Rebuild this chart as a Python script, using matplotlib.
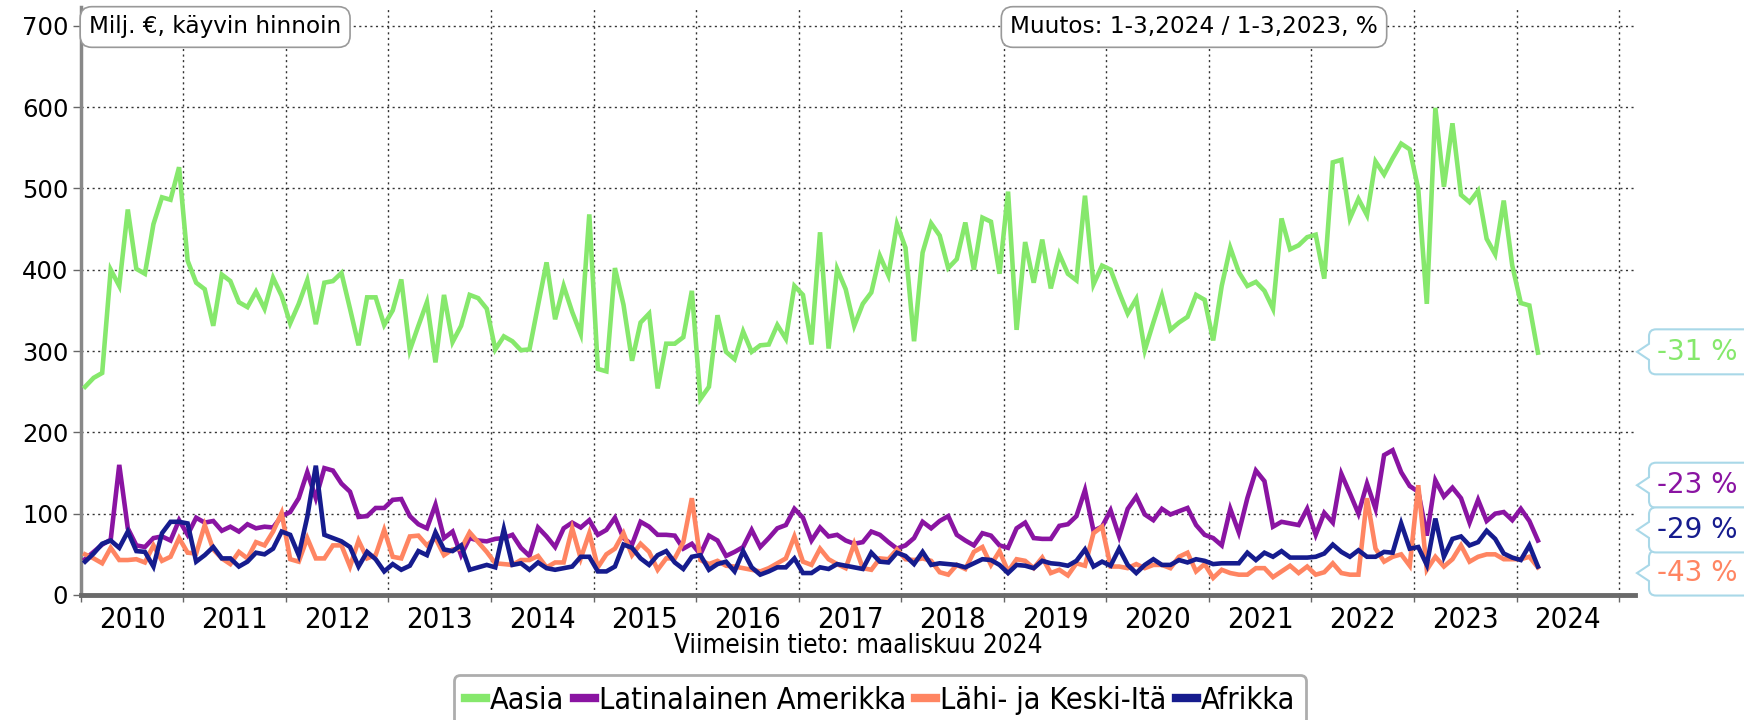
import matplotlib
matplotlib.use('Agg')
import matplotlib.pyplot as plt
import numpy as np
from matplotlib.path import Path
from matplotlib.patches import PathPatch
from matplotlib.transforms import IdentityTransform
from matplotlib.lines import Line2D
from matplotlib import font_manager as fm

# ---------------- data (monthly, Jan 2010 - Mar 2024, milj. EUR) ----------------
start_year = 2010
series_names = ["Aasia", "Latinalainen Amerikka", "Lähi- ja Keski-Itä", "Afrikka"]
series_colors = ["#86e86c", "#8a14a2", "#ff8562", "#161c8e"]

aasia = [256, 267, 273, 400, 380, 474, 401, 395, 456, 489, 486, 526,
         411, 384, 376, 331, 394, 386, 360, 354, 373, 352, 390, 368,
         334, 358, 387, 333, 384, 386, 396, 352, 307, 366, 366, 332,
         350, 388, 301, 331, 360, 286, 369, 311, 331, 369, 365, 352,
         302, 318, 312, 301, 302, 356, 409, 339, 380, 348, 321, 468,
         278, 275, 402, 357, 288, 335, 346, 254, 309, 309, 317, 374,
         241, 256, 344, 299, 290, 324, 299, 307, 308, 332, 315, 380,
         369, 308, 446, 303, 401, 376, 331, 358, 372, 417, 393, 456,
         427, 312, 421, 457, 442, 402, 413, 458, 400, 464, 459, 395,
         496, 326, 434, 384, 437, 377, 419, 395, 387, 491, 382, 405,
         400, 372, 346, 364, 301, 335, 368, 326, 335, 342, 369, 363,
         313, 380, 427, 397, 380, 385, 374, 352, 463, 425, 430, 440,
         443, 389, 532, 535, 463, 487, 467, 533, 517, 537, 555, 548,
         499, 358, 599, 502, 580, 492, 483, 497, 438, 419, 485, 405,
         359, 356, 298]

latinalainen = [44, 53, 62, 68, 160, 82, 61, 59, 70, 72, 67, 92,
                74, 95, 89, 91, 79, 84, 78, 87, 82, 84, 83, 97,
                102, 119, 151, 119, 156, 153, 137, 127, 96, 97, 107, 107,
                117, 118, 97, 87, 82, 111, 70, 78, 49, 70, 67, 66,
                69, 70, 74, 58, 48, 83, 72, 59, 82, 89, 83, 92,
                74, 80, 95, 70, 62, 90, 84, 74, 74, 73, 57, 63,
                50, 73, 67, 48, 53, 59, 80, 59, 70, 82, 86, 106,
                95, 67, 83, 72, 74, 67, 63, 65, 78, 74, 65, 57,
                61, 70, 90, 82, 91, 97, 74, 67, 61, 76, 73, 61,
                58, 82, 89, 70, 69, 69, 85, 87, 97, 129, 79, 84,
                104, 72, 106, 121, 99, 92, 106, 99, 103, 107, 86, 74,
                70, 61, 106, 77, 119, 153, 140, 84, 90, 88, 86, 106,
                74, 101, 89, 149, 125, 100, 137, 106, 172, 178, 151, 134,
                127, 73, 141, 121, 132, 119, 89, 117, 91, 100, 102, 92,
                106, 91, 67]

lahi_keski_ita = [50, 45, 39, 58, 43, 43, 44, 40, 61, 42, 47, 70,
                  52, 51, 86, 56, 45, 38, 53, 45, 65, 61, 78, 101,
                  44, 41, 70, 45, 45, 61, 61, 35, 67, 45, 49, 80,
                  47, 45, 72, 73, 61, 70, 49, 56, 57, 77, 65, 53,
                  39, 38, 37, 43, 43, 48, 34, 40, 40, 82, 45, 76,
                  34, 50, 57, 76, 49, 63, 53, 31, 45, 45, 65, 119,
                  43, 38, 42, 36, 35, 33, 31, 29, 33, 39, 45, 72,
                  41, 37, 57, 44, 38, 33, 63, 33, 31, 45, 44, 56,
                  44, 43, 45, 42, 28, 25, 37, 32, 53, 59, 37, 54,
                  29, 44, 42, 33, 46, 27, 31, 24, 39, 36, 76, 84,
                  35, 35, 33, 38, 33, 37, 37, 33, 47, 52, 29, 38,
                  21, 31, 27, 25, 25, 33, 33, 22, 29, 36, 27, 35,
                  25, 28, 39, 27, 25, 25, 119, 57, 41, 47, 50, 36,
                  135, 31, 47, 35, 44, 61, 41, 47, 50, 50, 44, 44,
                  44, 47, 34]

afrikka = [41, 51, 63, 67, 58, 78, 54, 53, 35, 76, 90, 90,
           88, 41, 49, 59, 45, 45, 35, 41, 52, 50, 57, 78,
           74, 49, 96, 159, 74, 70, 66, 59, 35, 53, 44, 29,
           38, 31, 36, 54, 49, 77, 56, 54, 61, 31, 34, 37,
           34, 81, 37, 39, 31, 40, 33, 31, 33, 35, 47, 47,
           29, 29, 35, 62, 58, 45, 37, 49, 54, 40, 32, 47,
           49, 31, 38, 41, 29, 54, 34, 25, 29, 34, 34, 45,
           27, 27, 34, 32, 38, 36, 34, 32, 52, 41, 40, 52,
           48, 38, 53, 37, 39, 38, 37, 34, 39, 44, 43, 37,
           27, 37, 36, 33, 42, 39, 38, 36, 42, 56, 35, 41,
           36, 57, 37, 27, 37, 44, 37, 37, 43, 40, 44, 42,
           38, 39, 39, 39, 52, 43, 52, 47, 54, 46, 46, 46,
           47, 51, 62, 53, 47, 55, 47, 47, 53, 52, 88, 57,
           59, 37, 94, 47, 69, 72, 61, 65, 79, 69, 51, 46,
           43, 61, 35]

change_labels = ["-31 %", "-23 %", "-43 %", "-29 %"]
# y-levels (data units) where the callouts point (staggered to avoid overlap)
callout_levels = [299, 135, 27, 80]

year_labels = [str(y) for y in range(2010, 2025)]
y_ticks = [0, 100, 200, 300, 400, 500, 600, 700]

# ---------------- fonts ----------------
cond_path = None
for wanted in ['DejaVuSansCondensed.ttf', 'LiberationSansNarrow-Regular.ttf']:
    for f in fm.fontManager.ttflist:
        if f.fname.endswith(wanted):
            cond_path = f.fname
            break
    if cond_path:
        break

def cond_font(size):
    if cond_path:
        return fm.FontProperties(fname=cond_path, size=size)
    return fm.FontProperties(family='DejaVu Sans', size=size * 0.9)

plt.rcParams['font.family'] = ['DejaVu Sans']

# ---------------- figure ----------------
W, H = 1744, 720
fig = plt.figure(figsize=(W / 100, H / 100), dpi=100)
ax_left, ax_right, ax_bottom, ax_top = 80.8, 1635, 595, 7
ax = fig.add_axes([ax_left / W, (H - ax_bottom) / H,
                   (ax_right - ax_left) / W, (ax_bottom - ax_top) / H])

all_series = [aasia, latinalainen, lahi_keski_ita, afrikka]
n = len(aasia)
xs = start_year + (np.arange(n) + 0.5) / 12.0
for vals, col in zip(all_series, series_colors):
    ax.plot(xs, vals, color=col, lw=3.3, solid_joinstyle='miter', zorder=3)

ax.set_xlim(2010, 2025.155)
ax.set_ylim(0, 723)

# grid
for yr in range(2011, 2026):
    ax.axvline(yr, color='#333333', lw=1.0, ls=(0, (1.5, 2.5)), zorder=1)
for yv in y_ticks[1:]:
    ax.axhline(yv, color='#333333', lw=1.0, ls=(0, (1.5, 2.5)), zorder=1)

# spines
for s in ['top', 'right']:
    ax.spines[s].set_visible(False)
ax.spines['left'].set_color('#888888')
ax.spines['left'].set_linewidth(2.5)
ax.spines['bottom'].set_color('#6a6a6a')
ax.spines['bottom'].set_linewidth(3.5)

ax.set_yticks(y_ticks)
ax.set_yticklabels([str(v) for v in y_ticks])
ax.tick_params(axis='y', length=6, width=1, color='#666666', labelsize=17.5, pad=3)

ax.set_xticks(list(range(2010, 2026)))
ax.set_xticklabels([])
ax.tick_params(axis='x', which='major', length=5, width=1, color='#666666')
ax.set_xticks([y + 0.5 for y in range(2010, 2025)], minor=True)
ax.set_xticklabels(year_labels, minor=True)
ax.tick_params(axis='x', which='minor', length=0, pad=8)
for lab in ax.get_xticklabels(minor=True):
    lab.set_fontproperties(cond_font(21))

# boxes at top
box_kw = dict(boxstyle='round,pad=0.38,rounding_size=0.5', fc='white', ec='#999999', lw=1.2)
fig.text(89 / W, 1 - 27 / H, "Milj. €, käyvin hinnoin", ha='left', va='center',
         fontsize=16.7, bbox=box_kw, zorder=10)
fig.text(1194 / W, 1 - 27 / H, "Muutos: 1-3,2024 / 1-3,2023, %", ha='center', va='center',
         fontsize=16.7, bbox=box_kw, zorder=10)

fig.text((ax_left + ax_right) / 2 / W, 1 - 646 / H, "Viimeisin tieto: maaliskuu 2024",
         ha='center', va='center', fontproperties=cond_font(18.7))

# legend
handles = [Line2D([0], [0], color=c, lw=6) for c in series_colors]
leg = fig.legend(handles, series_names, loc='upper center', bbox_to_anchor=(880 / W, 45 / H),
                 ncol=4, prop=cond_font(22), handlelength=0.7, handletextpad=0.12,
                 columnspacing=0.3, frameon=True, fancybox=True, borderpad=0.35,
                 borderaxespad=0)
leg.get_frame().set_edgecolor('#999999')
leg.get_frame().set_linewidth(2)

# callouts on the right
fig.canvas.draw()

def callout(level, text, color):
    _, yd = ax.transData.transform((2025, level))
    tip_x, bl, br = 1637, 1649, 1800
    hh, r, notch = 22.5, 7, 8
    top, bot = yd + hh, yd - hh
    verts = [(tip_x, yd), (bl, yd + notch), (bl, top - r), (bl, top), (bl + r, top),
             (br, top), (br, bot), (bl + r, bot), (bl, bot), (bl, bot + r),
             (bl, yd - notch), (tip_x, yd)]
    codes = [Path.MOVETO, Path.LINETO, Path.LINETO, Path.CURVE3, Path.CURVE3,
             Path.LINETO, Path.LINETO, Path.LINETO, Path.CURVE3, Path.CURVE3,
             Path.LINETO, Path.CLOSEPOLY]
    patch = PathPatch(Path(verts, codes), transform=IdentityTransform(),
                      fc='white', ec='#a9d8e8', lw=1.5, zorder=5)
    fig.add_artist(patch)
    fig.text(1657, yd, text, color=color, fontsize=20, ha='left', va='center',
             transform=IdentityTransform(), zorder=6)

for lvl, txt, col in zip(callout_levels, change_labels, series_colors):
    callout(lvl, txt, col)

fig.savefig('out.png', dpi=100)
